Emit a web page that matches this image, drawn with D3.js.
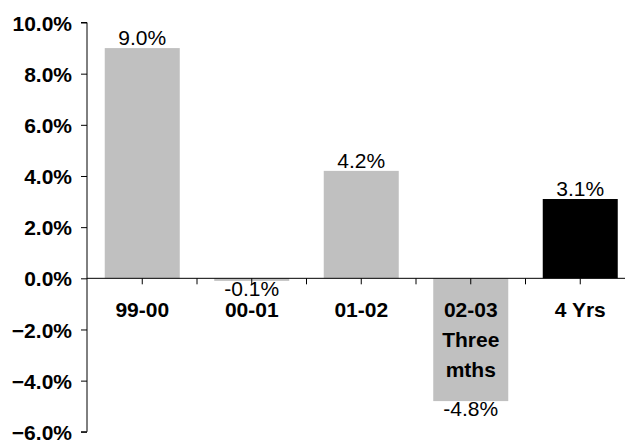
<!DOCTYPE html>
<html>
<head>
<meta charset="utf-8">
<script src="https://cdn.jsdelivr.net/npm/d3@7"></script>
<style>
  html, body { margin: 0; padding: 0; background: #fff; }
  svg { display: block; }
  text { font-family: "Liberation Sans", Arial, Helvetica, sans-serif; }
</style>
</head>
<body>
<svg id="chart" width="625" height="440"></svg>
<script>
const categories = ["99-00", "00-01", "01-02", "02-03\nThree\nmths", "4 Yrs"];
const values = [9.0, -0.1, 4.2, -4.8, 3.1];
const valueLabels = ["9.0%", "-0.1%", "4.2%", "-4.8%", "3.1%"];
const barColors = ["#c0c0c0", "#c0c0c0", "#c0c0c0", "#c0c0c0", "#000000"];
const yTicks = [-6, -4, -2, 0, 2, 4, 6, 8, 10];

const svg = d3.select("#chart");

const y = d3.scaleLinear().domain([-6, 10]).range([431.8, 22.5]);
const x = d3.scaleBand().domain(categories).range([87.5, 635])
  .paddingInner(0.315).paddingOuter(0.1575);

// bars
svg.append("g").selectAll("rect").data(values).join("rect")
  .attr("x", (d, i) => x(categories[i]))
  .attr("width", x.bandwidth())
  .attr("y", d => y(Math.max(0, d)))
  .attr("height", d => Math.abs(y(d) - y(0)))
  .attr("fill", (d, i) => barColors[i]);

// y axis
const yAxis = d3.axisLeft(y).tickValues(yTicks).tickSize(6).tickPadding(9)
  .tickFormat(d => d3.format(".1f")(d) + "%");
const gy = svg.append("g").attr("transform", "translate(87,0)").call(yAxis);
gy.select(".domain").attr("d", `M-6,${y(10)}H0V${y(-6)}H-6`).attr("stroke", "#000");
gy.selectAll(".tick line").attr("stroke", "#000");
gy.selectAll(".tick text")
  .attr("fill", "#000")
  .style("font-size", "21px")
  .style("font-weight", "bold")
  .attr("dy", "0.36em");

// zero line with ticks
const y0 = y(0);
svg.append("line")
  .attr("x1", 87).attr("x2", 625)
  .attr("y1", y0).attr("y2", y0)
  .attr("stroke", "#000").attr("stroke-width", 1);
const step = x.step();
const x0 = x.range()[0];
const tickPos = d3.range(1, 10).map(i => x0 + i * step / 2);
svg.append("g").selectAll("line").data(tickPos).join("line")
  .attr("x1", d => d).attr("x2", d => d)
  .attr("y1", y0).attr("y2", y0 + 6)
  .attr("stroke", "#000").attr("stroke-width", 1);

// value labels
svg.append("g").selectAll("text").data(values).join("text")
  .attr("x", (d, i) => x(categories[i]) + x.bandwidth() / 2)
  .attr("y", d => d >= 0 ? y(d) - 3 : y(d) + 15)
  .attr("text-anchor", "middle")
  .style("font-size", "21px")
  .attr("fill", "#000")
  .text((d, i) => valueLabels[i]);

// category labels
const cat = svg.append("g").selectAll("text").data(categories).join("text")
  .attr("x", d => x(d) + x.bandwidth() / 2)
  .attr("y", y0 + 39)
  .attr("text-anchor", "middle")
  .style("font-size", "21px")
  .style("font-weight", "bold")
  .attr("fill", "#000");
cat.each(function(d) {
  const t = d3.select(this);
  d.split("\n").forEach((line, i) => {
    t.append("tspan")
      .attr("x", x(d) + x.bandwidth() / 2)
      .attr("dy", i === 0 ? 0 : 30)
      .text(line);
  });
});
</script>
</body>
</html>
